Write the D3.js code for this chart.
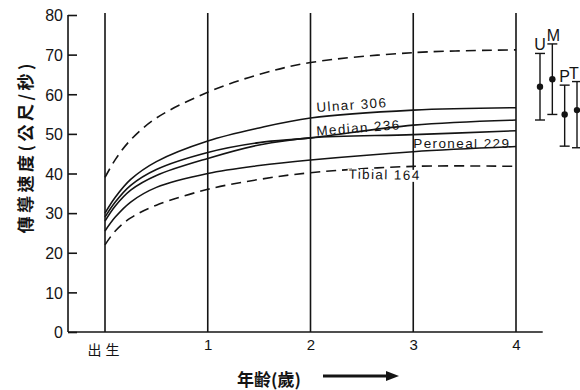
<!DOCTYPE html>
<html><head><meta charset="utf-8">
<script src="https://cdn.jsdelivr.net/npm/d3@7"></script>
<style>body{margin:0;background:#fff}svg{display:block}</style>
</head><body>
<svg id="c" width="580" height="390"></svg>
<script>
// ---- data ----
const ages = [0, 0.1, 0.25, 0.5, 1, 1.5, 2, 3, 4];
const upperDashed = [39, 43.5, 48.5, 54, 60.5, 65, 68, 70.5, 71.2];
const ulnar      = [30, 34, 38.5, 43, 48.2, 51.5, 54, 56, 56.6];
const median     = [29, 32.8, 37, 41, 45.3, 47.8, 49, 52.2, 53.5];
const peroneal   = [28, 31.8, 35.8, 39.5, 43.8, 47.2, 49, 49.8, 50.8];
const tibial     = [25.5, 29, 32.8, 36.5, 40, 42, 43.4, 45.5, 46.8];
const lowerDashed= [22, 25.5, 28.8, 32, 36, 38.5, 40.2, 41.8, 41.8];
const seriesNames = ["Ulnar 306", "Median 236", "Peroneal 229", "Tibial 164"];
const yTicks = [0, 10, 20, 30, 40, 50, 60, 70, 80];
const xTicks = [0, 1, 2, 3, 4];
const xTickLabels = ["出生", "1", "2", "3", "4"];
const barKeys = ["U", "M", "P", "T"];
const barMean = [61.9, 63.8, 54.9, 56.0];
const barLow  = [53.5, 54.9, 46.9, 46.5];
const barHigh = [70.3, 72.7, 62.3, 63.2];
const yTitle = "傳導速度(公尺/秒)";
const xTitle = "年齢(歲)";

const ink = "#141414";
const svg = d3.select("#c");
const x = d3.scaleLinear().domain([0, 4]).range([105, 516]);
const y = d3.scaleLinear().domain([0, 80]).range([332, 15]);
const xb = d3.scalePoint().domain(barKeys).range([540, 577]);

// vertical grid lines
svg.append("g").selectAll("line").data(xTicks).join("line")
  .attr("x1", d => x(d)).attr("x2", d => x(d))
  .attr("y1", y(0)).attr("y2", y(80.5))
  .attr("stroke", ink).attr("stroke-width", 1.6);

// y axis
const yAxis = d3.axisRight(y).tickValues(yTicks).tickSize(9).tickFormat(d3.format("d"));
const gy = svg.append("g").attr("transform", `translate(${x(-0.36)},0)`).call(yAxis);
gy.select(".domain").attr("stroke", ink).attr("stroke-width", 1.6).attr("d", `M0,${y(80)}V${y(0)}`);
gy.selectAll(".tick line").attr("stroke", ink).attr("stroke-width", 1.6);
gy.selectAll(".tick text").attr("x", -5).attr("text-anchor", "end").attr("dy", "0.36em")
  .attr("font-family", "Liberation Sans, Arial, sans-serif").attr("font-size", 16).attr("fill", ink);

// x axis
const xAxis = d3.axisBottom(x).tickValues(xTicks).tickSize(0).tickFormat((d, i) => xTickLabels[i]);
const gx = svg.append("g").attr("transform", `translate(0,${y(0)})`).call(xAxis);
gx.select(".domain").attr("stroke", ink).attr("stroke-width", 1.6).attr("d", `M${x(-0.36)},0H${x(4.26)}`);
gx.selectAll(".tick text").attr("dy", (d) => d === 0 ? 20 : 15)
  .attr("font-family", d => d === 0 ? "Noto Sans CJK TC, sans-serif" : "Liberation Sans, Arial, sans-serif")
  .attr("font-size", d => d === 0 ? 14 : 15).attr("letter-spacing", d => d === 0 ? 4 : 0).attr("fill", ink);

// curves
const line = d3.line().x((d, i) => x(ages[i])).y(d => y(d)).curve(d3.curveCatmullRom.alpha(0.5));
const curves = [
  {v: upperDashed, dash: "10,6"},
  {v: ulnar}, {v: median}, {v: peroneal}, {v: tibial},
  {v: lowerDashed, dash: "10,6"}
];
svg.append("g").selectAll("path").data(curves).join("path")
  .attr("d", d => line(d.v)).attr("fill", "none").attr("stroke", ink)
  .attr("stroke-width", 1.6).attr("stroke-dasharray", d => d.dash || null);

// curve labels
const lf = "Liberation Sans, Arial, sans-serif";
function label(txt, ax, val, dy, rot, bg) {
  const g = svg.append("g").attr("transform", `translate(${x(ax)},${y(val) + dy}) rotate(${rot})`);
  const t = g.append("text").text(txt).attr("font-family", lf).attr("font-size", 13.5)
    .attr("letter-spacing", 1.4).attr("fill", ink);
  if (bg) {
    const b = t.node().getBBox();
    g.insert("rect", "text").attr("x", b.x - 1).attr("y", b.y + 2).attr("width", b.width + 2)
      .attr("height", b.height - 3).attr("fill", "#fff");
  }
}
label(seriesNames[0], 2.06, ulnar[6], -6, -4, false);
label(seriesNames[1], 2.06, median[6], -2, -4.5, false);
label(seriesNames[2], 3.0, peroneal[7], 13, 0, false);
label(seriesNames[3], 2.37, lowerDashed[6], 6, 1, true);

// error bars
const eb = svg.append("g");
barKeys.forEach((k, i) => {
  const cx = xb(k);
  eb.append("line").attr("x1", cx).attr("x2", cx).attr("y1", y(barLow[i])).attr("y2", y(barHigh[i]))
    .attr("stroke", ink).attr("stroke-width", 1.4);
  [barLow[i], barHigh[i]].forEach(v => eb.append("line").attr("x1", cx - 5).attr("x2", cx + 5)
    .attr("y1", y(v)).attr("y2", y(v)).attr("stroke", ink).attr("stroke-width", 1.4));
  eb.append("circle").attr("cx", cx).attr("cy", y(barMean[i])).attr("r", 3.2).attr("fill", ink);
  eb.append("text").text(k).attr("x", cx + (i === 1 ? 1 : i === 3 ? -3 : 0)).attr("y", y(barHigh[i]) - 3)
    .attr("text-anchor", "middle").attr("font-family", lf).attr("font-size", 16).attr("fill", ink);
});

// axis titles
svg.append("text").text(yTitle)
  .attr("transform", `translate(32,${y(46.3)}) rotate(-90)`)
  .attr("text-anchor", "middle").attr("font-family", "Noto Sans CJK TC, sans-serif")
  .attr("font-weight", "bold").attr("font-size", 17).attr("fill", ink)
  .attr("textLength", 170).attr("lengthAdjust", "spacing");
svg.append("text").text(xTitle).attr("x", 269).attr("y", 386).attr("text-anchor", "middle")
  .attr("font-family", "Noto Sans CJK TC, sans-serif").attr("font-weight", "bold")
  .attr("font-size", 17).attr("fill", ink);
// arrow
svg.append("line").attr("x1", 323).attr("x2", 388).attr("y1", 376).attr("y2", 376)
  .attr("stroke", ink).attr("stroke-width", 3);
svg.append("path").attr("d", "M386,371L399,376L386,381Z").attr("fill", ink);
</script>
</body></html>
